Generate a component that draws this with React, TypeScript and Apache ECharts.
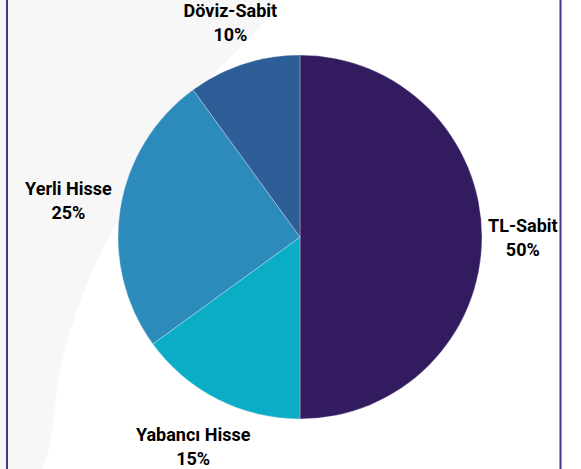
import React, { useEffect, useRef } from "react";
import * as echarts from "echarts";

const categories = ["TL-Sabit", "Yabancı Hisse", "Yerli Hisse", "Döviz-Sabit"];
const values = [50, 15, 25, 10];
const colors = ["#321b5f", "#0badc6", "#2c8bba", "#2e5e98"];

const CX = 300;
const CY = 237;
const R = 182;
const GAP = 6;

export default function App() {
  const ref = useRef<HTMLDivElement>(null);
  useEffect(() => {
    document.body.style.margin = "0";
    const chart = echarts.init(ref.current!, null, { renderer: "svg" });
    const total = values.reduce((a, b) => a + b, 0);
    const mids: number[] = [];
    let acc = 0;
    values.forEach((v) => {
      mids.push(((acc + v / 2) / total) * Math.PI * 2);
      acc += v;
    });
    chart.setOption({
      animation: false,
      backgroundColor: "#ffffff",
      graphic: [
        {
          type: "polygon",
          z: -10,
          silent: true,
          shape: {
            points: [
              [0, 0],
              [272, 0],
              [205, 85],
              [140, 185],
              [95, 265],
              [62, 360],
              [42, 469],
              [0, 469],
            ],
            smooth: 0.3,
          },
          style: { fill: "#f7f7f8" },
        },
        {
          type: "rect",
          z: 100,
          shape: { x: 6, y: 0, width: 2, height: 469 },
          style: { fill: "#45358a" },
        },
        {
          type: "rect",
          z: 100,
          shape: { x: 559.5, y: 0, width: 2, height: 469 },
          style: { fill: "#45358a" },
        },
      ],
      series: [
        {
          type: "pie",
          center: [CX, CY],
          radius: R,
          startAngle: 90,
          clockwise: true,
          percentPrecision: 0,
          avoidLabelOverlap: false,
          data: categories.map((c, i) => ({
            name: c,
            value: values[i],
            itemStyle: { color: colors[i] },
          })),
          itemStyle: { borderColor: "rgba(255,255,255,0.6)", borderWidth: 0.5 },
          label: {
            show: true,
            position: "inside",
            formatter: "{b}\n{d}%",
            color: "#000000",
            fontFamily: "Roboto, 'Noto Sans', sans-serif",
            fontWeight: "bold",
            fontSize: 18,
            lineHeight: 24,
            align: "center",
          },
          labelLine: { show: false },
          labelLayout: (params: any) => {
            const i = params.dataIndex;
            const t = mids[i];
            const s = Math.sin(t);
            const c = Math.cos(t);
            const hw = params.labelRect.width / 2;
            const hh = params.labelRect.height / 2;
            const d = R + GAP + hw * Math.abs(s) + hh * Math.abs(c);
            return {
              x: CX + d * s,
              y: CY - d * c,
              align: "center",
              verticalAlign: "middle",
            };
          },
        },
      ],
    });
    return () => chart.dispose();
  }, []);
  return <div ref={ref} style={{ width: 581, height: 469 }} />;
}
